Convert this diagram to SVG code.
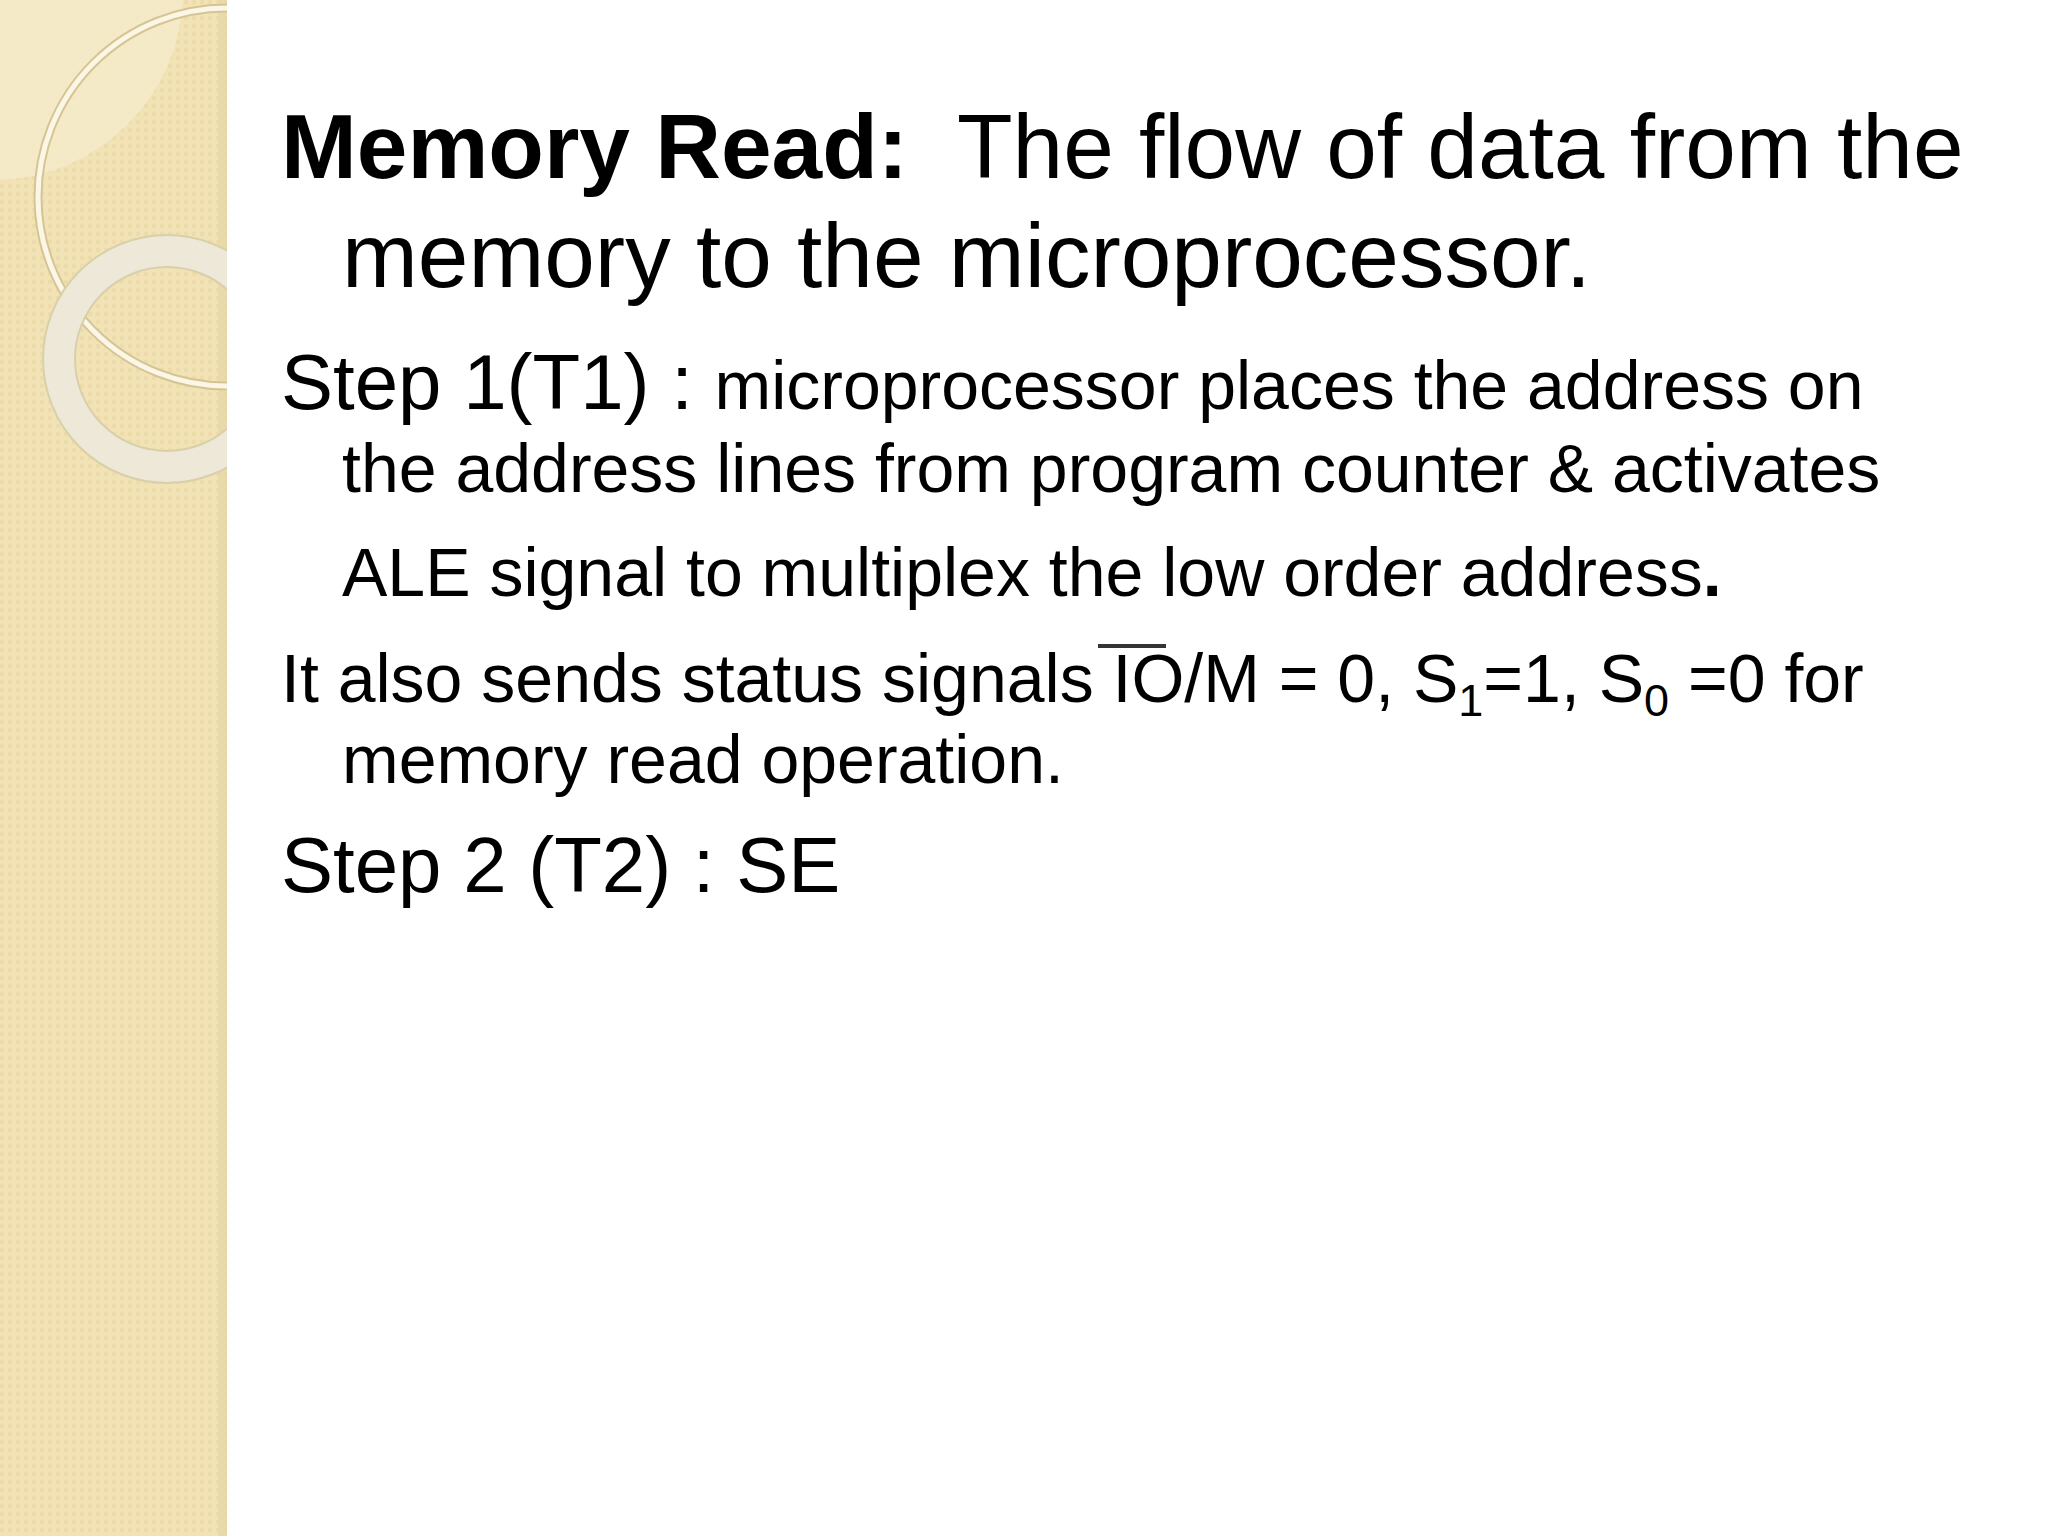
<svg xmlns="http://www.w3.org/2000/svg" width="2048" height="1536" viewBox="0 0 2048 1536">
<style>
text{font-family:"Liberation Sans",Arial,sans-serif;fill:#000}
.b{font-weight:bold}
</style>
<defs>
<pattern id="dots" width="8" height="8" patternUnits="userSpaceOnUse">
<rect width="8" height="8" fill="#f1e3b6"/>
<rect width="4" height="4" fill="#eddcaa"/>
</pattern>
<clipPath id="pc"><rect x="0" y="0" width="227" height="1536"/></clipPath>
</defs>
<rect width="2048" height="1536" fill="#fff"/>
<g id="panel">
<rect x="0" y="0" width="227" height="1536" fill="url(#dots)"/>
<rect x="218" y="0" width="9" height="1536" fill="#e6d6a6" opacity="0.7"/>
<g clip-path="url(#pc)">
<path d="M0 0 H183 A190 190 0 0 1 0 180 Z" fill="#f6ecd0" opacity="0.7"/>
<circle cx="227" cy="197" r="189" fill="none" stroke="#d6c594" stroke-width="9"/>
<circle cx="227" cy="197" r="189" fill="none" stroke="#fbf6e6" stroke-width="5"/>
<circle cx="167" cy="359" r="108" fill="none" stroke="#d9cfa8" stroke-width="34"/>
<circle cx="167" cy="359" r="108" fill="none" stroke="#ede8d8" stroke-width="30"/>
</g>
</g>
<g id="text">
<text x="281" y="178" font-size="91" xml:space="preserve"><tspan class="b">Memory Read:</tspan>  The flow of data from the</text>
<text x="342" y="287" font-size="91">memory to the microprocessor.</text>
<text x="281" y="409" font-size="78">Step 1(T1) : <tspan font-size="68">microprocessor places the address on</tspan></text>
<text x="342" y="492" font-size="68">the address lines from program counter &amp; activates</text>
<text x="342" y="596" font-size="68">ALE signal to multiplex the low order address<tspan class="b">.</tspan></text>
<text x="281" y="702" font-size="68">It also sends status signals IO/M = 0, S<tspan font-size="45" dy="14">1</tspan><tspan dy="-14">=1, S</tspan><tspan font-size="45" dy="14">0</tspan><tspan dy="-14"> =0 for</tspan></text>
<line x1="1098" y1="646" x2="1166" y2="646" stroke="#333" stroke-width="4"/>
<text x="342" y="783" font-size="68">memory read operation.</text>
<text x="281" y="892" font-size="78">Step 2 (T2) : SE</text>
</g>
</svg>
